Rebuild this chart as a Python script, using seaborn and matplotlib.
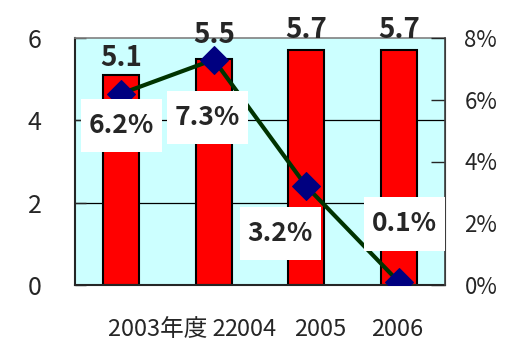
import pandas as pd
import numpy as np
import matplotlib
matplotlib.use('Agg')
import matplotlib.pyplot as plt
import matplotlib.transforms as mtransforms
from matplotlib.path import Path
import seaborn as sns

# 데이터
years = ['2003年度 2', '2004', '2005', '2006']
values = [5.1, 5.5, 5.7, 5.7]
growth = [6.2, 7.3, 3.2, 0.1]
left_ticks = [0, 2, 4, 6]
right_ticks = [0, 2, 4, 6, 8]

sns.set_style('white')
plt.rcParams['font.family'] = ['Noto Sans CJK JP', 'DejaVu Sans']

df = pd.DataFrame({'year': years, 'value': values, 'growth': growth})
df['pos'] = np.arange(len(df))


# 라벨 상자 : 세로 여백을 더 크게
def tall_box(x0, y0, width, height, mutation_size):
    px = 0.3 * mutation_size
    py = 0.5 * mutation_size
    x0, y0 = x0 - px, y0 - py
    x1, y1 = x0 + width + 2 * px, y0 + height + 2 * py
    return Path([(x0, y0), (x1, y0), (x1, y1), (x0, y1), (x0, y0)], closed=True)


fig = plt.figure(figsize=(5.08, 3.47), dpi=100)
ax = fig.add_axes([75 / 508, 62 / 347, 370 / 508, 247 / 347])
ax.set_facecolor('#CCFFFF')

sns.barplot(data=df, x='year', y='value', color='#FF0000', width=0.39,
            edgecolor='black', linewidth=1.5, saturation=1, ax=ax)
ax.set_xlim(-0.5, 3.5)
ax.set_ylim(0, 6)
ax.set_yticks(left_ticks)
ax.set_yticklabels([str(t) for t in left_ticks], fontsize=18)
ax.set_xlabel('')
ax.set_ylabel('')
for y in [2, 4]:
    ax.axhline(y, color='black', lw=0.9, zorder=0.5)
ax.tick_params(axis='y', direction='in', length=8, width=1, pad=24)
ax.tick_params(axis='x', which='major', length=0, pad=24, labelsize=17)
ax.set_xticks([0.5, 1.5, 2.5], minor=True)
ax.tick_params(axis='x', which='minor', direction='in', length=10, width=1)
ax.spines['left'].set_linewidth(1.5)
ax.spines['bottom'].set_linewidth(1.5)
ax.spines['top'].set_color('#808080')
ax.spines['top'].set_linewidth(1.2)

# 카테고리 라벨 위치 보정
shifts = [46, 36, 14, -2]
for lab, dx in zip(ax.get_xticklabels(), shifts):
    lab.set_transform(lab.get_transform() + mtransforms.ScaledTranslation(dx / 100, 0, fig.dpi_scale_trans))

# 막대 값 라벨
bar_off = [17, 24, 20, 20]
for i, (v, off) in enumerate(zip(values, bar_off)):
    ax.annotate(f'{v:.1f}', (i, v), xytext=(0, off), textcoords='offset pixels',
                ha='center', va='center', fontsize=20, fontweight='bold')

ax2 = ax.twinx()
sns.lineplot(data=df, x='pos', y='growth', color='#003300', lw=3, marker='D',
             markersize=14, markerfacecolor='#000080', markeredgecolor='#000080', ax=ax2, zorder=3)
ax2.set_ylim(0, 8)
ax2.set_xlim(-0.5, 3.5)
ax2.set_yticks(right_ticks)
ax2.set_yticklabels([f'{t}%' for t in right_ticks], fontsize=16)
ax2.set_ylabel('')
ax2.set_xlabel('')
ax2.tick_params(axis='y', direction='in', length=10, width=1, pad=14)
ax2.spines['right'].set_color('#404040')
ax2.spines['right'].set_linewidth(1.2)
for s in ['left', 'top', 'bottom']:
    ax2.spines[s].set_visible(False)

# 성장률 라벨
lab_off = [(0, -32), (-6, -58), (-26, -47), (6, 58)]
for i, (g, off) in enumerate(zip(growth, lab_off)):
    ax2.annotate(f'{g:.1f}%', (i, g), xytext=off, textcoords='offset pixels',
                 ha='center', va='center', fontsize=19, fontweight='bold', zorder=5,
                 bbox=dict(boxstyle=tall_box, fc='white', ec='none'))

fig.savefig('out.png', dpi=100)
